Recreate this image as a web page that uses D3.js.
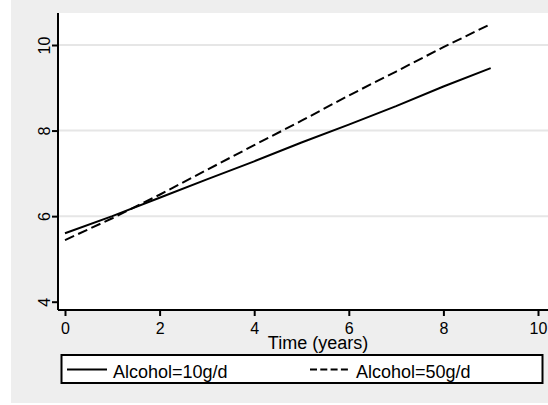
<!DOCTYPE html>
<html>
<head>
<meta charset="utf-8">
<script src="https://cdn.jsdelivr.net/npm/d3@7"></script>
<style>
  html, body { margin: 0; padding: 0; background: #ffffff; }
  svg { display: block; font-family: "Liberation Sans", Arial, sans-serif; }
</style>
</head>
<body>
<svg id="chart" width="548" height="405"></svg>
<script>
// Predicted outcome over follow-up time by daily alcohol intake
const years      = [0, 1, 2, 3, 4, 5, 6, 7, 8, 9];
const alcohol10  = [5.60, 6.00, 6.43, 6.86, 7.28, 7.72, 8.14, 8.57, 9.03, 9.46];
const alcohol50  = [5.44, 5.95, 6.50, 7.08, 7.66, 8.23, 8.82, 9.38, 9.95, 10.49];
const xTicks     = [0, 2, 4, 6, 8, 10];
const yTicks     = [4, 6, 8, 10];
const gridTicks  = [6, 8, 10];
const seriesNames = ["Alcohol=10g/d", "Alcohol=50g/d"];
const xTitle     = "Time (years)";

const svg = d3.select("#chart");

// outer graph region
svg.append("rect").attr("x", 11).attr("y", 0).attr("width", 537).attr("height", 403)
  .attr("fill", "#eeeeee");

// plot region
const plot = { left: 58, top: 13, right: 548, bottom: 310 };
svg.append("rect")
  .attr("x", plot.left).attr("y", plot.top)
  .attr("width", plot.right - plot.left).attr("height", plot.bottom - plot.top)
  .attr("fill", "#ffffff");

const x = d3.scaleLinear().domain([0, 10]).range([65, 538]);
const y = d3.scaleLinear().domain([4, 10]).range([301.7, 45]);

// horizontal grid lines
svg.append("g").selectAll("line").data(gridTicks).join("line")
  .attr("x1", plot.left + 1).attr("x2", plot.right)
  .attr("y1", d => y(d)).attr("y2", d => y(d))
  .attr("stroke", "#e6e6e6").attr("stroke-width", 2);

// series
const series = [
  { name: seriesNames[0], values: alcohol10, dash: null },
  { name: seriesNames[1], values: alcohol50, dash: "10,4.5" }
];
const line = d3.line().x((d, i) => x(years[i])).y(d => y(d));
svg.append("g").selectAll("path").data(series).join("path")
  .attr("d", s => line(s.values))
  .attr("fill", "none")
  .attr("stroke", "#000")
  .attr("stroke-width", 2)
  .attr("stroke-dasharray", s => s.dash);

// y axis
const yAxis = svg.append("g").attr("transform", `translate(${plot.left},0)`)
  .call(d3.axisLeft(y).tickValues(yTicks).tickSize(6).tickPadding(0).tickFormat(d3.format("d")));
yAxis.select(".domain").attr("d", `M0,${plot.top}V${plot.bottom}`).attr("stroke-width", 2);
yAxis.selectAll(".tick line").attr("stroke-width", 2);
yAxis.selectAll(".tick text")
  .attr("x", null).attr("dy", null)
  .attr("text-anchor", "middle")
  .attr("transform", "translate(-8,0) rotate(-90)")
  .attr("font-size", 16).attr("fill", "#000");

// x axis
const xAxis = svg.append("g").attr("transform", `translate(0,${plot.bottom})`)
  .call(d3.axisBottom(x).tickValues(xTicks).tickSize(6).tickPadding(0).tickFormat(d3.format("d")));
xAxis.select(".domain").attr("d", `M${plot.left},0H${plot.right}`).attr("stroke-width", 2);
xAxis.selectAll(".tick line").attr("stroke-width", 2);
xAxis.selectAll(".tick text")
  .attr("y", 24).attr("dy", null)
  .attr("font-size", 16).attr("fill", "#000");
svg.selectAll(".domain, .tick line").attr("stroke", "#000");

// x axis title
svg.append("text").attr("x", 318).attr("y", 349)
  .attr("text-anchor", "middle").attr("font-size", 18).text(xTitle);

// legend
const legend = svg.append("g");
legend.append("rect").attr("x", 61.5).attr("y", 355).attr("width", 481).attr("height", 28)
  .attr("fill", "#ffffff").attr("stroke", "#000").attr("stroke-width", 2);
const keyX = [67, 310];
const legendDash = [null, "7,3.3"];
series.forEach((s, i) => {
  legend.append("line")
    .attr("x1", keyX[i]).attr("x2", keyX[i] + 40)
    .attr("y1", 369.5).attr("y2", 369.5)
    .attr("stroke", "#000").attr("stroke-width", 2)
    .attr("stroke-dasharray", legendDash[i]);
  legend.append("text")
    .attr("x", keyX[i] + 46).attr("y", 377.5)
    .attr("font-size", 18).text(s.name);
});
</script>
</body>
</html>
